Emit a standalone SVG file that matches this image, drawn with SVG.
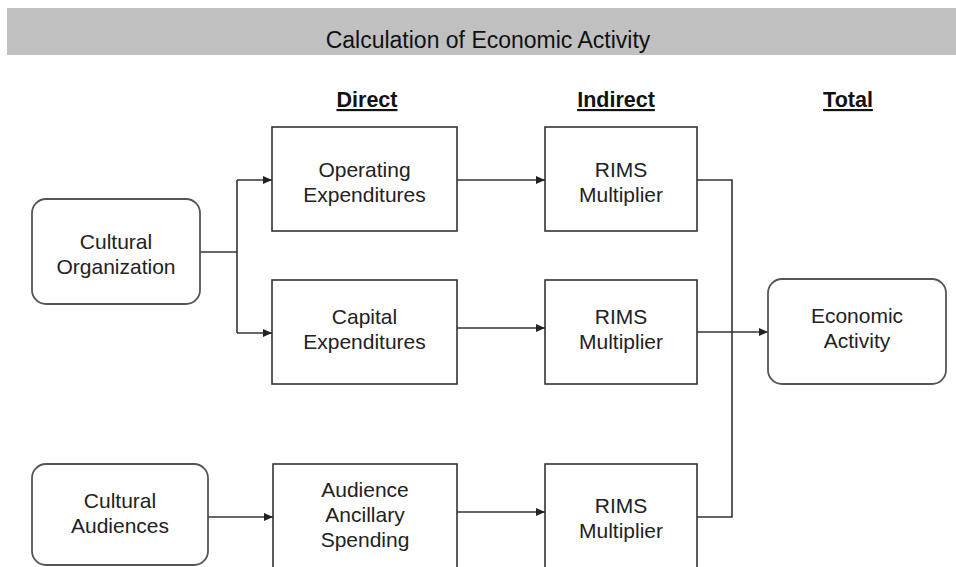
<svg xmlns="http://www.w3.org/2000/svg" width="956" height="567" viewBox="0 0 956 567">
<defs>
<marker id="arr" markerWidth="9" markerHeight="8" refX="9" refY="4" orient="auto" markerUnits="userSpaceOnUse">
<path d="M0,0 L9,4 L0,8 Z" fill="#222"/>
</marker>
<style>
.box{fill:#fff;stroke:#333;stroke-width:1.6}
.rbox{fill:#fff;stroke:#555;stroke-width:1.8}
.lbl{font-family:"Liberation Sans",Arial,sans-serif;font-size:21px;fill:#222;text-anchor:middle}
.hdr{font-family:"Liberation Sans",Arial,sans-serif;font-size:21.5px;font-weight:bold;fill:#111;text-anchor:middle;text-decoration:underline}
.ttl{font-family:"Liberation Sans",Arial,sans-serif;font-size:23px;fill:#111;text-anchor:middle}
.con{fill:none;stroke:#333;stroke-width:1.6}
</style>
</defs>
<rect width="956" height="567" fill="#fff"/>
<g id="title">
<rect x="7" y="8" width="949" height="47" fill="#c0c0c0"/>
<text class="ttl" x="488" y="48">Calculation of Economic Activity</text>
</g>
<g id="headers">
<text class="hdr" x="367" y="107">Direct</text>
<text class="hdr" x="616" y="107">Indirect</text>
<text class="hdr" x="848" y="107">Total</text>
</g>
<g id="connectors">
<path class="con" d="M200,252 H237"/>
<path class="con" d="M237,180 V333"/>
<path class="con" d="M237,180 H272" marker-end="url(#arr)"/>
<path class="con" d="M237,333 H272" marker-end="url(#arr)"/>
<path class="con" d="M457,180 H545" marker-end="url(#arr)"/>
<path class="con" d="M457,328 H545" marker-end="url(#arr)"/>
<path class="con" d="M697,180 H732 V517 H697"/>
<path class="con" d="M697,332 H768" marker-end="url(#arr)"/>
<path class="con" d="M208,517 H273" marker-end="url(#arr)"/>
<path class="con" d="M457,512 H545" marker-end="url(#arr)"/>
</g>
<g id="cultural-organization">
<rect class="rbox" x="32" y="199" width="168" height="105" rx="14"/>
<text class="lbl" x="116" y="249">Cultural</text>
<text class="lbl" x="116" y="274">Organization</text>
</g>
<g id="operating-expenditures">
<rect class="box" x="272" y="127" width="185" height="104"/>
<text class="lbl" x="364.5" y="177">Operating</text>
<text class="lbl" x="364.5" y="202">Expenditures</text>
</g>
<g id="rims-1">
<rect class="box" x="545" y="127" width="152" height="104"/>
<text class="lbl" x="621" y="177">RIMS</text>
<text class="lbl" x="621" y="202">Multiplier</text>
</g>
<g id="capital-expenditures">
<rect class="box" x="272" y="280" width="185" height="104"/>
<text class="lbl" x="364.5" y="324">Capital</text>
<text class="lbl" x="364.5" y="349">Expenditures</text>
</g>
<g id="rims-2">
<rect class="box" x="545" y="280" width="152" height="104"/>
<text class="lbl" x="621" y="324">RIMS</text>
<text class="lbl" x="621" y="349">Multiplier</text>
</g>
<g id="economic-activity">
<rect class="rbox" x="768" y="279" width="178" height="105" rx="14"/>
<text class="lbl" x="857" y="323">Economic</text>
<text class="lbl" x="857" y="348">Activity</text>
</g>
<g id="cultural-audiences">
<rect class="rbox" x="32" y="464" width="176" height="101" rx="14"/>
<text class="lbl" x="120" y="508">Cultural</text>
<text class="lbl" x="120" y="533">Audiences</text>
</g>
<g id="audience-ancillary-spending">
<rect class="box" x="273" y="464" width="184" height="110"/>
<text class="lbl" x="365" y="497">Audience</text>
<text class="lbl" x="365" y="522">Ancillary</text>
<text class="lbl" x="365" y="547">Spending</text>
</g>
<g id="rims-3">
<rect class="box" x="545" y="464" width="152" height="110"/>
<text class="lbl" x="621" y="513">RIMS</text>
<text class="lbl" x="621" y="538">Multiplier</text>
</g>
</svg>
